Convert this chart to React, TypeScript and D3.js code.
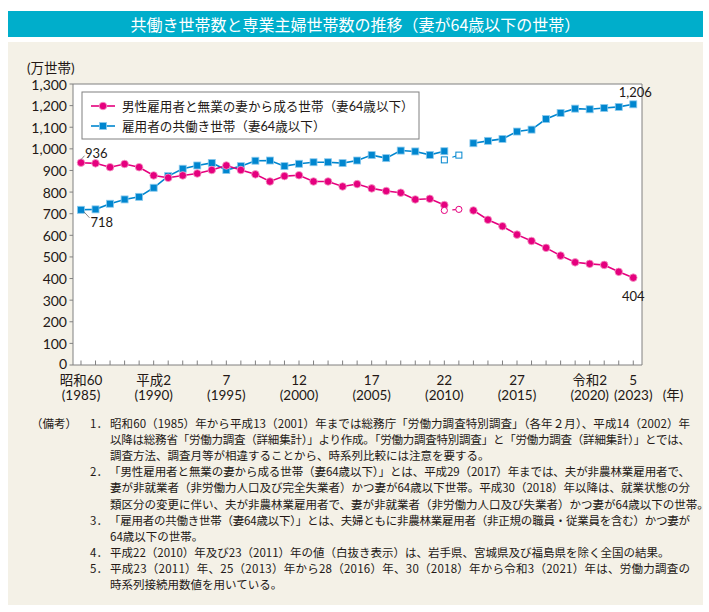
import React from "react";
import * as d3 from "d3";

const years = [1985,1986,1987,1988,1989,1990,1991,1992,1993,1994,1995,1996,1997,1998,1999,2000,2001,2002,2003,2004,2005,2006,2007,2008,2009,2010,2011,2012,2013,2014,2015,2016,2017,2018,2019,2020,2021,2022,2023];
const sengyo = [936,933,915,930,915,877,866,877,886,902,923,902,882,849,874,878,849,849,826,837,817,805,797,766,769,740,null,715,672,642,603,574,542,506,475,468,463,431,404];
const tomobataraki = [718,720,746,766,778,820,874,908,923,935,902,920,945,946,920,931,938,938,934,946,971,957,992,988,972,989,null,1026,1037,1046,1080,1089,1138,1166,1186,1183,1189,1194,1206];
const hollowYears = [2010, 2011];
const sengyoHollow = [715, 720];
const tomobatarakiHollow = [949, 971];

const seriesNames = ["男性雇用者と無業の妻から成る世帯（妻64歳以下）", "雇用者の共働き世帯（妻64歳以下）"];
const yTicks = [0,100,200,300,400,500,600,700,800,900,1000,1100,1200,1300];
const xLabelYears = [1985,1990,1995,2000,2005,2010,2015,2020,2023];
const xLabelTop = ["昭和60","平成2","7","12","17","22","27","令和2","5"];
const xLabelBottom = ["(1985)","(1990)","(1995)","(2000)","(2005)","(2010)","(2015)","(2020)","(2023)"];
const title = "共働き世帯数と専業主婦世帯数の推移（妻が64歳以下の世帯）";
const yUnit = "(万世帯)";
const xUnit = "(年)";
const noteHead = "（備考）";
const noteNums = ["1．","2．","3．","4．","5．"];
const notes = [
  ["昭和60（1985）年から平成13（2001）年までは総務庁「労働力調査特別調査」（各年２月）、平成14（2002）年",
   "以降は総務省「労働力調査（詳細集計）」より作成。「労働力調査特別調査」と「労働力調査（詳細集計）」とでは、",
   "調査方法、調査月等が相違することから、時系列比較には注意を要する。"],
  ["「男性雇用者と無業の妻から成る世帯（妻64歳以下）」とは、平成29（2017）年までは、夫が非農林業雇用者で、",
   "妻が非就業者（非労働力人口及び完全失業者）かつ妻が64歳以下世帯。平成30（2018）年以降は、就業状態の分",
   "類区分の変更に伴い、夫が非農林業雇用者で、妻が非就業者（非労働力人口及び失業者）かつ妻が64歳以下の世帯。"],
  ["「雇用者の共働き世帯（妻64歳以下）」とは、夫婦ともに非農林業雇用者（非正規の職員・従業員を含む）かつ妻が",
   "64歳以下の世帯。"],
  ["平成22（2010）年及び23（2011）年の値（白抜き表示）は、岩手県、宮城県及び福島県を除く全国の結果。"],
  ["平成23（2011）年、25（2013）年から28（2016）年、30（2018）年から令和3（2021）年は、労働力調査の",
   "時系列接続用数値を用いている。"],
];

const JP = "'Noto Sans CJK JP', sans-serif";
const NUM = "Lato, 'Noto Sans CJK JP', sans-serif";
const RED = "#E5007E";
const RED_L = "#F59CC6";
const BLUE = "#0086CF";
const BLUE_L = "#8CCBEE";
const TXT = "#231815";
const AXIS = "#808080";

export default function App() {
  const L = 73, R = 642, T = 84, B = 365;
  const x = d3.scaleLinear().domain([1984.45, 2023.6]).range([L, R]);
  const y = d3.scaleLinear().domain([0, 1300]).range([B, T]);
  const line = d3.line<{ yr: number; v: number | null }>()
    .defined((d) => d.v != null)
    .x((d) => x(d.yr))
    .y((d) => y(d.v as number));

  const red = years.map((yr, i) => ({ yr, v: sengyo[i] }));
  const blue = years.map((yr, i) => ({ yr, v: tomobataraki[i] }));
  const redH = hollowYears.map((yr, i) => ({ yr, v: sengyoHollow[i] }));
  const blueH = hollowYears.map((yr, i) => ({ yr, v: tomobatarakiHollow[i] }));

  const partial = (pts: { yr: number; v: number }[]) => {
    const a = [x(pts[0].yr), y(pts[0].v)];
    const b = [x(pts[1].yr), y(pts[1].v)];
    const t = 0.55;
    return { x1: a[0] + (b[0] - a[0]) * t, y1: a[1] + (b[1] - a[1]) * t, x2: b[0], y2: b[1] };
  };
  const rp = partial(redH as any);
  const bp = partial(blueH as any);

  const sq = 7;
  const cr = 3.8;

  const noteLines: { num?: string; text: string; justify: boolean }[] = [];
  notes.forEach((p, pi) => {
    p.forEach((t, li) => noteLines.push({ num: li === 0 ? noteNums[pi] : undefined, text: t, justify: li < p.length - 1 }));
  });
  const noteY0 = 423, noteDY = 16.1, noteRight = 690, textCol = 110, numCol = 90, nfs = 11.5;

  return (
    <svg width={709} height={612} style={{ position: "absolute", left: 0, top: 0, background: "#fff" }}>
      <rect x={8} y={11} width={695} height={26} fill="#00AECB" />
      <text x={355.5} y={24} textAnchor="middle" dominantBaseline="central" fill="#fff" fontFamily={JP} fontSize={16}>{title}</text>
      <rect x={8} y={42} width={695} height={563} fill="#F4F1E7" />

      <rect x={L} y={T} width={R - L} height={B - T} fill="#fff" />
      <path d={`M${L},${T}H${R}V${B}H${L}Z`} fill="none" stroke={AXIS} strokeWidth={1} />
      {yTicks.map((t) => (
        <g key={t}>
          <line x1={L - 3.5} x2={L} y1={y(t)} y2={y(t)} stroke={AXIS} />
          <text x={L - 6} y={y(t) - (t === 0 ? 2 : 0)} textAnchor="end" dominantBaseline="central" fontFamily={NUM} fontSize={14} fill={TXT}>{d3.format(",")(t)}</text>
        </g>
      ))}
      {years.map((yr) => (
        <line key={yr} x1={x(yr)} x2={x(yr)} y1={B} y2={B - 4.5} stroke={AXIS} />
      ))}
      {xLabelYears.map((yr, i) => (
        <g key={yr}>
          <text x={x(yr)} y={379.5} textAnchor="middle" dominantBaseline="central" fontFamily={NUM} fontSize={13.5} fill={TXT}>{xLabelTop[i]}</text>
          <text x={x(yr)} y={394.5} textAnchor="middle" dominantBaseline="central" fontFamily={NUM} fontSize={13.5} fill={TXT}>{xLabelBottom[i]}</text>
        </g>
      ))}
      <text x={673} y={394.5} textAnchor="middle" dominantBaseline="central" fontFamily={NUM} fontSize={13.5} fill={TXT}>{xUnit}</text>
      <text x={27} y={68} dominantBaseline="central" fontFamily={NUM} fontSize={13.5} fill={TXT}>{yUnit}</text>

      <rect x={82} y={92} width={337} height={47} fill="#fff" stroke={AXIS} />
      <line x1={91} x2={115} y1={106} y2={106} stroke={RED} strokeWidth={1.6} />
      <circle cx={103} cy={106} r={cr} fill={RED} stroke={RED_L} strokeWidth={0.8} />
      <text x={122} y={106} dominantBaseline="central" fontFamily={NUM} fontSize={12.6} fill={TXT}>{seriesNames[0]}</text>
      <line x1={91} x2={115} y1={126} y2={126} stroke={BLUE} strokeWidth={1.6} />
      <rect x={103 - sq / 2} y={126 - sq / 2} width={sq} height={sq} fill={BLUE} stroke={BLUE_L} strokeWidth={0.8} />
      <text x={122} y={126} dominantBaseline="central" fontFamily={NUM} fontSize={12.6} fill={TXT}>{seriesNames[1]}</text>

      <path d={line(blue) || ""} fill="none" stroke={BLUE} strokeWidth={1.6} />
      <path d={line(red) || ""} fill="none" stroke={RED} strokeWidth={1.6} />
      <line {...bp} stroke={BLUE} strokeWidth={1.2} />
      <line {...rp} stroke={RED} strokeWidth={1.2} />

      {blue.filter((d) => d.v != null).map((d) => (
        <rect key={"b" + d.yr} x={x(d.yr) - sq / 2} y={y(d.v as number) - sq / 2} width={sq} height={sq} fill={BLUE} stroke={BLUE_L} strokeWidth={0.8} />
      ))}
      {red.filter((d) => d.v != null).map((d) => (
        <circle key={"r" + d.yr} cx={x(d.yr)} cy={y(d.v as number)} r={cr} fill={RED} stroke={RED_L} strokeWidth={0.8} />
      ))}
      {blueH.map((d) => (
        <rect key={"bh" + d.yr} x={x(d.yr) - 3} y={y(d.v) - 3} width={6} height={6} fill="#fff" stroke={BLUE} strokeWidth={1} />
      ))}
      {redH.map((d) => (
        <circle key={"rh" + d.yr} cx={x(d.yr)} cy={y(d.v)} r={3.1} fill="#fff" stroke={RED} strokeWidth={1} />
      ))}

      <line x1={x(years[0])} y1={y(sengyo[0] as number) - 3} x2={x(years[0]) + 3.5} y2={y(sengyo[0] as number) - 7} stroke="#555" strokeWidth={0.7} />
      <text x={x(years[0]) + 4} y={y(sengyo[0] as number) - 10} dominantBaseline="central" fontFamily={NUM} fontSize={13} fill={TXT}>{sengyo[0]}</text>
      <line x1={x(years[0]) + 3} y1={y(tomobataraki[0] as number) + 2} x2={x(years[0]) + 8.5} y2={y(tomobataraki[0] as number) + 8} stroke="#555" strokeWidth={0.7} />
      <text x={x(years[0]) + 9.5} y={y(tomobataraki[0] as number) + 12} dominantBaseline="central" fontFamily={NUM} fontSize={13} fill={TXT}>{tomobataraki[0]}</text>
      <text x={x(2023) + 2} y={y(tomobataraki[38] as number) - 12} textAnchor="middle" dominantBaseline="central" fontFamily={NUM} fontSize={13} fill={TXT}>{d3.format(",")(tomobataraki[38] as number)}</text>
      <text x={x(2023)} y={y(sengyo[38] as number) + 18} textAnchor="middle" dominantBaseline="central" fontFamily={NUM} fontSize={13} fill={TXT}>{sengyo[38]}</text>

      <text x={31} y={noteY0} dominantBaseline="central" fontFamily={JP} fontSize={nfs} fill={TXT}>{noteHead}</text>
      {noteLines.map((n, i) => {
        const ly = noteY0 + i * noteDY;
        const startX = n.text.startsWith("「") ? textCol - 1 : textCol;
        return (
          <g key={i}>
            {n.num && <text x={numCol} y={ly} dominantBaseline="central" fontFamily={JP} fontSize={nfs} fill={TXT}>{n.num}</text>}
            <text x={startX} y={ly} dominantBaseline="central" fontFamily={JP} fontSize={nfs} fill={TXT}
              {...(n.justify ? { textLength: noteRight - startX, lengthAdjust: "spacing" } : {})}>{n.text}</text>
          </g>
        );
      })}
    </svg>
  );
}
